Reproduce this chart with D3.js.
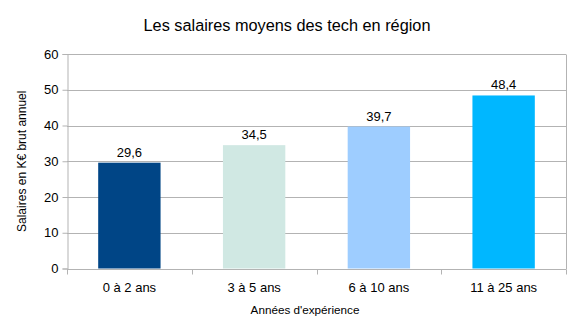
<!DOCTYPE html>
<html>
<head>
<meta charset="utf-8">
<script src="https://cdn.jsdelivr.net/npm/d3@7"></script>
<style>
  html, body { margin: 0; padding: 0; background: #fff; }
  svg { display: block; font-family: "Liberation Sans", Arial, sans-serif; }
</style>
</head>
<body>
<div id="chart"></div>
<script>
// Salary data by experience bracket
const categories = ["0 à 2 ans", "3 à 5 ans", "6 à 10 ans", "11 à 25 ans"];
const salaries = [29.6, 34.5, 39.7, 48.4];
const barColors = ["#004586", "#d0e8e3", "#9ecdff", "#00b7ff"];
const yTicks = [0, 10, 20, 30, 40, 50, 60];

const W = 572, H = 333;
const margin = { top: 54, right: 6, bottom: 64.5, left: 67 };
const iw = W - margin.left - margin.right;
const ih = H - margin.top - margin.bottom;

const svg = d3.select("#chart").append("svg")
  .attr("width", W).attr("height", H);

const g = svg.append("g").attr("transform", `translate(${margin.left},${margin.top})`);

const x = d3.scaleBand().domain(categories).range([0, iw]).paddingInner(0.5).paddingOuter(0.25);
const y = d3.scaleLinear().domain([0, 60]).range([ih, 0]);

const gridColor = "#b3b3b3";

// horizontal gridlines
g.append("g").selectAll("line").data(yTicks).join("line")
  .attr("x1", 0).attr("x2", iw)
  .attr("y1", d => Math.round(y(d)) + 0.5).attr("y2", d => Math.round(y(d)) + 0.5)
  .attr("stroke", gridColor).attr("stroke-width", 1);

// right wall edge
g.append("line")
  .attr("x1", iw + 0.5).attr("x2", iw + 0.5)
  .attr("y1", Math.round(y(60)) + 0.5).attr("y2", Math.round(y(0)) + 0.5)
  .attr("stroke", gridColor);

// bars
g.append("g").selectAll("rect").data(salaries).join("rect")
  .attr("x", (d, i) => x(categories[i]))
  .attr("width", x.bandwidth())
  .attr("y", d => y(d))
  .attr("height", d => y(0) - y(d))
  .attr("fill", (d, i) => barColors[i]);

// value labels
const fmt = v => d3.format(".1f")(v).replace(".", ",");
g.append("g").selectAll("text").data(salaries).join("text")
  .attr("x", (d, i) => x(categories[i]) + x.bandwidth() / 2)
  .attr("y", d => y(d) - 6)
  .attr("text-anchor", "middle")
  .attr("font-size", 13)
  .attr("fill", "#000")
  .text(d => fmt(d));

// y axis
const yAxis = g.append("g")
  .attr("transform", "translate(0.5,0)")
  .call(d3.axisLeft(y).tickValues(yTicks).tickSize(5).tickPadding(4));
yAxis.select(".domain").attr("stroke", gridColor);
yAxis.selectAll(".tick line").attr("stroke", gridColor);
yAxis.selectAll(".tick text").attr("font-size", 13).attr("fill", "#000")
  .attr("font-family", "Liberation Sans, Arial, sans-serif");

// x axis with ticks at category boundaries
const xAxisG = g.append("g").attr("transform", `translate(0,${Math.round(y(0)) + 0.5})`);
xAxisG.append("line").attr("x1", 0).attr("x2", iw).attr("stroke", gridColor);
const bounds = d3.range(categories.length + 1).map(i => i * (iw / categories.length));
xAxisG.selectAll(".bt").data(bounds).join("line").attr("class", "bt")
  .attr("x1", d => Math.round(d) + 0.5).attr("x2", d => Math.round(d) + 0.5)
  .attr("y1", 0).attr("y2", 5).attr("stroke", gridColor);
xAxisG.selectAll(".cl").data(categories).join("text").attr("class", "cl")
  .attr("x", d => x(d) + x.bandwidth() / 2)
  .attr("y", 22)
  .attr("text-anchor", "middle")
  .attr("font-size", 13)
  .text(d => d);

// title
svg.append("text")
  .attr("x", 287).attr("y", 31)
  .attr("text-anchor", "middle")
  .attr("font-size", 16.3)
  .text("Les salaires moyens des tech en région");

// axis titles
svg.append("text")
  .attr("transform", `translate(26,${margin.top + ih / 2}) rotate(-90)`)
  .attr("text-anchor", "middle")
  .attr("font-size", 12)
  .text("Salaires en K€ brut annuel");

svg.append("text")
  .attr("x", 305).attr("y", 314)
  .attr("text-anchor", "middle")
  .attr("font-size", 11.7)
  .text("Années d'expérience");
</script>
</body>
</html>
